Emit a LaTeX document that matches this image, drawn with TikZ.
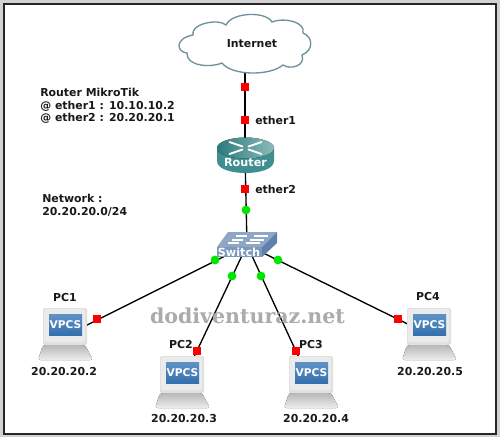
\documentclass[tikz,border=0pt]{standalone}
\usepackage{fontspec}
\setmainfont{DejaVu Sans}
\newfontfamily\markfont{DejaVu Serif}
\usetikzlibrary{calc}
\definecolor{frameout}{HTML}{D2D2D2}
\definecolor{cloudline}{HTML}{6F929A}
\definecolor{teal1}{HTML}{3F8F90}
\definecolor{teal2}{HTML}{8CBABA}
\definecolor{teal3}{HTML}{2C7A7C}
\definecolor{sw1}{HTML}{8FA6C4}
\definecolor{sw2}{HTML}{5F80AE}
\definecolor{sw3}{HTML}{7C98BC}
\definecolor{vblue}{HTML}{3570AE}
\definecolor{vblue2}{HTML}{5F93C6}
\definecolor{pcg}{HTML}{EBEBEB}
\definecolor{wm}{HTML}{ABABAB}
\tikzset{
  x=0.75pt,y=-0.75pt,
  lbl/.style={font=\bfseries\fontsize{8.2}{10}\selectfont,inner sep=0pt,text=black!90},
  redport/.style={fill=red,draw=none,minimum size=6.4pt,inner sep=0pt,rectangle},
  greenport/.style={fill=green!90!black,draw=none,minimum size=6.6pt,inner sep=0pt,circle},
  link/.style={draw=black,line width=1pt},
  anchorpt/.style={inner sep=0pt,minimum size=0pt},
  iconword/.style={font=\bfseries\fontsize{8.4}{9}\selectfont,text=white,inner sep=0pt},
  pics/vpcs/.style={code={
    \fill[black!12,rounded corners=1.5pt] (-1,-1) rectangle (43,36);
    \fill[rounded corners=1.5pt,pcg] (0,0) rectangle (41,33);
    \fill[bottom color=vblue,top color=vblue2] (5,5) rectangle (38,26);
    \node[font=\bfseries\fontsize{8}{9}\selectfont,text=white,inner sep=0pt] at (21.5,16) {VPCS};
    \fill[top color=black!28,bottom color=black!7,rounded corners=2pt] (-1,36) -- (41,36) -- (49,51) -- (-6,51) -- cycle;
  }}
}
\begin{document}
\begin{tikzpicture}
\useasboundingbox (0,0) rectangle (500,437);
\fill[frameout] (0,0) rectangle (500,437);
\fill[white] (4,4) rectangle (496,434);
\draw[black!85,line width=1.2pt] (4,4) rectangle (496,434);

% anchors
\node[anchorpt] (inet) at (245,44) {};
\node[anchorpt] (router) at (245,155) {};
\node[anchorpt] (switch) at (247,245) {};
\node[anchorpt] (pcA) at (65,336) {};
\node[anchorpt] (pcB) at (186,374) {};
\node[anchorpt] (pcC) at (306,373) {};
\node[anchorpt] (pcD) at (428,334) {};

% links
\draw[link] (inet) -- (router);
\draw[link] (router) -- (switch);
\draw[link] (switch) -- (pcA);
\draw[link] (switch) -- (pcB);
\draw[link] (switch) -- (pcC);
\draw[link] (switch) -- (pcD);

% watermark
\node[font=\markfont\bfseries\fontsize{15.4}{17}\selectfont,text=wm,inner sep=0pt] (mark) at (247.5,316) {dodiventuraz.net};

% cloud
\draw[cloudline,line width=1pt,fill=white]
  (193,35) .. controls (190,24) and (218,18) .. (226,25)
  .. controls (232,12) and (266,11) .. (272,22)
  .. controls (284,17) and (306,22) .. (303,33)
  .. controls (313,37) and (314,50) .. (302,55)
  .. controls (306,66) and (290,70) .. (283,65)
  .. controls (270,76) and (232,76) .. (222,63)
  .. controls (210,68) and (186,66) .. (187,53)
  .. controls (176,52) and (175,38) .. (193,35) -- cycle;
\node[lbl,inner sep=0pt] (internet) at (252,44) {Internet};

% router
\fill[teal1] (217,148) -- (217,161) .. controls (217,177) and (274,177) .. (274,161) -- (274,148) -- cycle;
\fill[left color=teal3,right color=teal2] (245.5,148) ellipse (28.5 and 10.5);
\foreach \s/\t in {1/1,-1/1,1/-1,-1/-1}{
  \draw[white,line width=1.4pt,line cap=round] ($(245.5,148)+(\s*3,\t*1.5)$) -- ($(245.5,148)+(\s*16,\t*6)$);
}
\node[iconword] (routerlabel) at (245.5,162.5) {Router};

% switch
\fill[sw1] (228,232) -- (277,232) -- (262,247) -- (217,247) -- cycle;
\fill[sw2] (262,247) -- (277,232) -- (277,243) -- (262,257) -- cycle;
\fill[sw3] (217,247) rectangle (262,257);
\foreach \dy/\dx in {236/0,240/-4,243/-8}{
  \draw[white,line width=0.8pt] ($(\dx,\dy)+(236,0)$) -- ($(\dx,\dy)+(247,0)$);
  \draw[white,line width=0.8pt] ($(\dx,\dy)+(254,0)$) -- ($(\dx,\dy)+(268,0)$);
}
\node[iconword] (switchlabel) at (239,252) {Switch};

% PCs
\pic at (44,309) {vpcs};
\pic at (161,357) {vpcs};
\pic at (290,357) {vpcs};
\pic at (408,309) {vpcs};

% ports
\node[redport] (p1) at (245,87) {};
\node[redport] (p2) at (245,120) {};
\node[redport] (p3) at (245,189) {};
\node[greenport] (g1) at (246,210) {};
\node[greenport] (g2) at (215,260) {};
\node[greenport] (g3) at (232,276) {};
\node[greenport] (g4) at (261,276) {};
\node[greenport] (g5) at (278,260) {};
\node[redport] (r1) at (97,319) {};
\node[redport] (r2) at (197,351) {};
\node[redport] (r3) at (296,351) {};
\node[redport] (r4) at (398,319) {};

% labels
\node[lbl,anchor=west] (e1) at (255,120.5) {ether1};
\node[lbl,anchor=west] (e2) at (255,189) {ether2};
\node[lbl,anchor=west] (t1) at (40,92.5) {Router MikroTik};
\node[lbl,anchor=west] (t2) at (40,106) {@ ether1 : 10.10.10.2};
\node[lbl,anchor=west] (t3) at (40,118.5) {@ ether2 : 20.20.20.1};
\node[lbl,anchor=west] (t4) at (42,198.5) {Network :};
\node[lbl,anchor=west] (t5) at (42,212) {20.20.20.0/24};
\node[lbl] (l1) at (65,298) {PC1};
\node[lbl] (l2) at (181,345) {PC2};
\node[lbl] (l3) at (311,345) {PC3};
\node[lbl] (l4) at (428,297) {PC4};
\node[lbl] (a1) at (64,372) {20.20.20.2};
\node[lbl] (a2) at (184,418.5) {20.20.20.3};
\node[lbl] (a3) at (316,418.5) {20.20.20.4};
\node[lbl] (a4) at (430,372) {20.20.20.5};
\end{tikzpicture}
\end{document}
